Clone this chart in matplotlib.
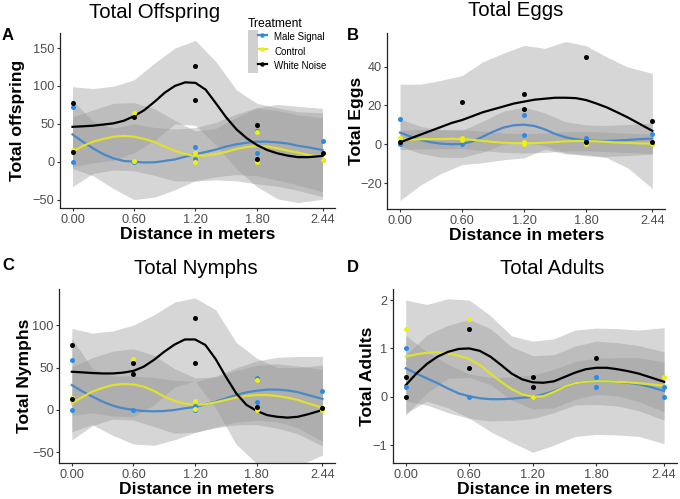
import matplotlib
matplotlib.use('Agg')
import matplotlib.pyplot as plt
from matplotlib.lines import Line2D
from matplotlib.patches import Patch
from matplotlib.legend_handler import HandlerTuple
import numpy as np

plt.rcParams['font.family'] = ['Liberation Sans', 'DejaVu Sans']

treatments = ['Male Signal', 'Control', 'White Noise']
pt_colors = ['#2b8ce8', '#eeee10', 'black']
ln_colors = ['#4a88c8', '#e0e030', 'black']
xticks = [0.0, 0.6, 1.2, 1.8, 2.44]

xs = [0, 0.1, 0.2, 0.3, 0.4, 0.5, 0.6, 0.7, 0.8, 0.9, 1.0, 1.1, 1.2,
      1.3, 1.4, 1.5, 1.6, 1.7, 1.8, 1.9, 2.0, 2.1, 2.2, 2.3, 2.44]
band_idx = [0, 2, 4, 6, 8, 10, 12, 14, 16, 18, 20, 22, 24]

# ---- A: total offspring ----
off_px = [[0, 0, 0.6, 1.2, 1.2, 1.8, 1.8, 2.44, 2.44],
          [0, 0.6, 0.6, 1.2, 1.2, 1.8, 1.8, 2.44],
          [0, 0, 0.6, 1.2, 1.2, 1.8, 1.8, 2.44]]
off_py = [[72, 0, 0, 19, 4, 41, 11, 27, 2],
          [16, 64, 1, 12, 0, 39, 0, 2],
          [78, 13, 59, 126, 81, 49, 4, 12]]
off_fit = [[36, 26.4, 17.6, 10, 4.4, 1, 0, -1, -0.8, 1, 3, 6.6, 10,
            12.8, 16, 20, 23, 25, 26.4, 26.4, 25.5, 24, 21, 19, 15.4],
           [13, 20.7, 26.4, 30, 33, 34, 33, 30, 26, 20, 14.5, 10, 7.5,
            8, 10, 13, 16.7, 19.4, 20.7, 20, 17.6, 14.6, 12, 9, 6],
           [46, 46.7, 47.5, 49, 50.6, 54, 60, 68, 79, 91, 100, 104.7, 104,
            95, 77, 58.5, 42.7, 31, 22, 15.4, 11, 8, 6, 6, 7.5]]
off_se = [[45, 36, 40, 50, 46, 40, 35, 36, 40, 45, 50, 52, 55],
          [46, 42, 44, 45, 44, 40, 33, 34, 42, 50, 50, 50, 52],
          [53, 49, 49, 48, 51, 50, 56, 55, 52, 55, 60, 60, 57]]

# ---- B: total eggs ----
egg_px = [[0, 0, 0.6, 1.2, 1.2, 1.8, 1.8, 2.44, 2.44],
          [0, 0.6, 0.6, 1.2, 1.2, 1.8, 2.44],
          [0, 0.6, 1.2, 1.2, 1.8, 1.8, 2.44, 2.44]]
egg_py = [[13, 0, 0, 15, 5, 3, 2, 5.5, 0],
          [3, 3, 2, 1, 0, 0, 0],
          [1, 22, 26, 18, 45, 1, 12, 1]]
egg_fit = [[6, 4, 2.2, 1, 0.3, 0, 0.2, 1.4, 3.9, 6.5, 8.6, 9.8, 10.1,
            9.4, 7.7, 5.3, 3.6, 2.6, 2, 1.7, 1.7, 1.9, 2.2, 2.6, 2.9],
           [2.2, 2.4, 2.6, 2.7, 2.7, 2.8, 2.7, 2.3, 1.7, 1.2, 0.8, 0.6, 0.5,
            0.6, 0.8, 1.1, 1.5, 1.7, 1.7, 1.5, 1.2, 0.9, 0.7, 0.5, 0.3],
           [1, 3, 5, 7, 9, 11, 12.5, 14.5, 16.5, 18, 19.5, 21, 22,
            23, 23.5, 24, 24, 23.8, 22.8, 21, 19, 16.5, 13.9, 11, 6.9]]
egg_se = [[7, 7, 7, 7, 8, 8.5, 9, 8.5, 8, 8, 8, 8, 8],
          [5, 5, 5, 5, 5, 5, 5, 5, 5, 5, 5, 5, 5],
          [30, 26, 24, 23, 26, 27.5, 29, 26, 29, 28, 26, 26, 29.7]]

# ---- C: total nymphs ----
nym_px = [[0, 0, 0.6, 1.2, 1.2, 1.8, 1.8, 2.44, 2.44],
          [0, 0.6, 1.2, 1.2, 1.8, 1.8, 2.44],
          [0, 0, 0.6, 0.6, 1.2, 1.2, 1.8, 2.44]]
nym_py = [[59, 0, 0, 5, 0, 38, 9, 22, 2],
          [14, 60, 11, 1, 35, 0, 0],
          [76, 13, 55, 42, 108, 55, 4, 2]]
nym_fit = [[29.4, 22, 15.7, 9.8, 5, 2, 0, -1.2, -1.6, -1.2, 0, 2, 3.5,
            6.7, 9.8, 13.7, 17.6, 20.8, 22.7, 24, 24, 23, 21, 17.6, 13],
           [7.8, 15, 21.6, 26, 29.4, 30.6, 30, 27.5, 22.4, 15.7, 10.6, 7.5, 5.9,
            6.7, 9, 11.8, 14.5, 16.5, 17.6, 17.6, 16.5, 14.5, 11.8, 7.8, 2.7],
           [45, 44.3, 43.5, 43, 43, 44, 46, 51, 59, 68.6, 77, 83, 83,
            76.5, 60, 39, 19.6, 6, -1, -6, -8, -9, -8, -5, 0]]
nym_se = [[55, 33, 35, 40, 40, 35, 30, 30, 32, 35, 38, 42, 50],
          [43, 40, 40, 42, 42, 38, 32, 30, 32, 35, 38, 40, 45],
          [51, 47, 50, 54, 53, 50, 49, 58, 60, 62, 58, 58, 53]]

# ---- D: total adults ----
adu_px = [[0, 0, 0.6, 1.2, 1.8, 1.8, 2.44, 2.44],
          [0, 0.6, 1.2, 2.44],
          [0, 0, 0.6, 0.6, 1.2, 1.2, 1.8]]
adu_py = [[1.0, 0.2, 0, 0, 0.4, 0.2, 0.2, 0],
          [1.4, 1.6, 0, 0.4],
          [0.4, 0, 1.4, 0.6, 0.4, 0.2, 0.8]]
adu_fit = [[0.59, 0.48, 0.38, 0.28, 0.17, 0.07, 0.01, -0.03, -0.05, -0.05, -0.04, -0.02, 0,
            0.05, 0.12, 0.21, 0.28, 0.31, 0.32, 0.32, 0.31, 0.29, 0.26, 0.21, 0.12],
           [0.83, 0.88, 0.91, 0.92, 0.9, 0.85, 0.78, 0.66, 0.48, 0.31, 0.16, 0.05, 0,
            0.01, 0.1, 0.21, 0.28, 0.31, 0.32, 0.32, 0.31, 0.3, 0.28, 0.26, 0.23],
           [0.24, 0.48, 0.68, 0.83, 0.93, 0.99, 1.0, 0.95, 0.83, 0.66, 0.48, 0.36, 0.3,
            0.29, 0.32, 0.41, 0.5, 0.57, 0.6, 0.6, 0.57, 0.53, 0.48, 0.41, 0.31]]
adu_se = [[0.68, 0.55, 0.5, 0.46, 0.45, 0.45, 0.45, 0.45, 0.45, 0.48, 0.5, 0.55, 0.6],
          [1.17, 1.0, 1.13, 1.22, 1.2, 1.1, 1.15, 1.1, 1.1, 1.1, 1.1, 1.1, 1.2],
          [0.62, 0.6, 0.55, 0.6, 0.58, 0.55, 0.55, 0.55, 0.55, 0.55, 0.55, 0.58, 0.62]]

W, H = 680, 499
fig = plt.figure(figsize=(W / 100, H / 100), dpi=100)


def px_axes(l, t, r, b):
    return fig.add_axes([l / W, 1 - b / H, (r - l) / W, (b - t) / H])


panels = [
    # box (l, t, r, b), ylim, yticks, title, title pos, ylabel, ylabel x, letter pos, data
    ((60, 33, 335, 208), (-61.1, 169.8), [-50, 0, 50, 100, 150], 'Total Offspring', (155, 13),
     'Total offspring', 18, (8, 35), off_px, off_py, off_fit, off_se),
    ((387.4, 33, 665, 209), (-33.4, 57.4), [-20, 0, 20, 40], 'Total Eggs', (516, 11),
     'Total Eggs', 357, (353, 35), egg_px, egg_py, egg_fit, egg_se),
    ((59.3, 289, 335, 463), (-62.4, 142.4), [-50, 0, 50, 100], 'Total Nymphs', (196, 268),
     'Total Nymphs', 25, (8, 266), nym_px, nym_py, nym_fit, nym_se),
    ((392.8, 289, 677, 463), (-1.37, 2.23), [-1, 0, 1, 2], 'Total Adults', (552, 268),
     'Total Adults', 367, (353, 267), adu_px, adu_py, adu_fit, adu_se),
]

bx = [xs[j] for j in band_idx]
for (box, ylim, yt, title, tpos, ylab, ylx, lpos, px, py, fit, se), letter in zip(panels, 'ABCD'):
    ax = px_axes(*box)
    for i in range(3):
        f = np.array(fit[i])[band_idx]
        s = np.array(se[i])
        ax.fill_between(bx, f - s, f + s, color='#999999', alpha=0.4, lw=0, zorder=1)
    for i in range(3):
        ax.plot(xs, fit[i], color=ln_colors[i], lw=1.6, zorder=3, solid_joinstyle='round')
    for i in range(3):
        ax.scatter(px[i], py[i], s=13, color=pt_colors[i], lw=0, zorder=4)
    ax.set_xlim(-0.122, 2.562)
    ax.set_ylim(*ylim)
    ax.set_xticks(xticks)
    ax.set_xticklabels(['%.2f' % v for v in xticks])
    ax.set_yticks(yt)
    for sp in ['top', 'right']:
        ax.spines[sp].set_visible(False)
    for sp in ['left', 'bottom']:
        ax.spines[sp].set_color('#222222')
        ax.spines[sp].set_linewidth(0.9)
    ax.tick_params(labelsize=9.2, labelcolor='#4d4d4d', color='#333333', length=2.5, width=0.8, pad=1.5)
    ax.set_xlabel('Distance in meters', fontsize=12.6, fontweight='bold', labelpad=1)
    fig.text(ylx / W, 1 - ((box[1] + box[3]) / 2) / H, ylab, rotation=90, ha='center', va='center',
             fontsize=12.6, fontweight='bold')
    fig.text(tpos[0] / W, 1 - tpos[1] / H, title, ha='center', va='center', fontsize=14.7)
    fig.text(lpos[0] / W, 1 - lpos[1] / H, letter, ha='center', va='center', fontsize=12, fontweight='bold')

handles = [(Patch(facecolor='#d0d0d0', edgecolor='none'),
            Line2D([], [], color=ln_colors[i], lw=1.6, marker='o', markersize=3.2,
                   markerfacecolor=pt_colors[i], markeredgewidth=0))
           for i in range(3)]
leg = fig.legend(handles, treatments, loc='upper left', bbox_to_anchor=(243 / W, 1 - 13 / H),
                 frameon=False, fontsize=7, title='Treatment', title_fontsize=8.7,
                 handler_map={tuple: HandlerTuple(ndivide=None)}, handlelength=2.0,
                 handleheight=1.9, labelspacing=0, handletextpad=0.7, borderpad=0,
                 alignment='left')

fig.savefig('out.png', dpi=100)
